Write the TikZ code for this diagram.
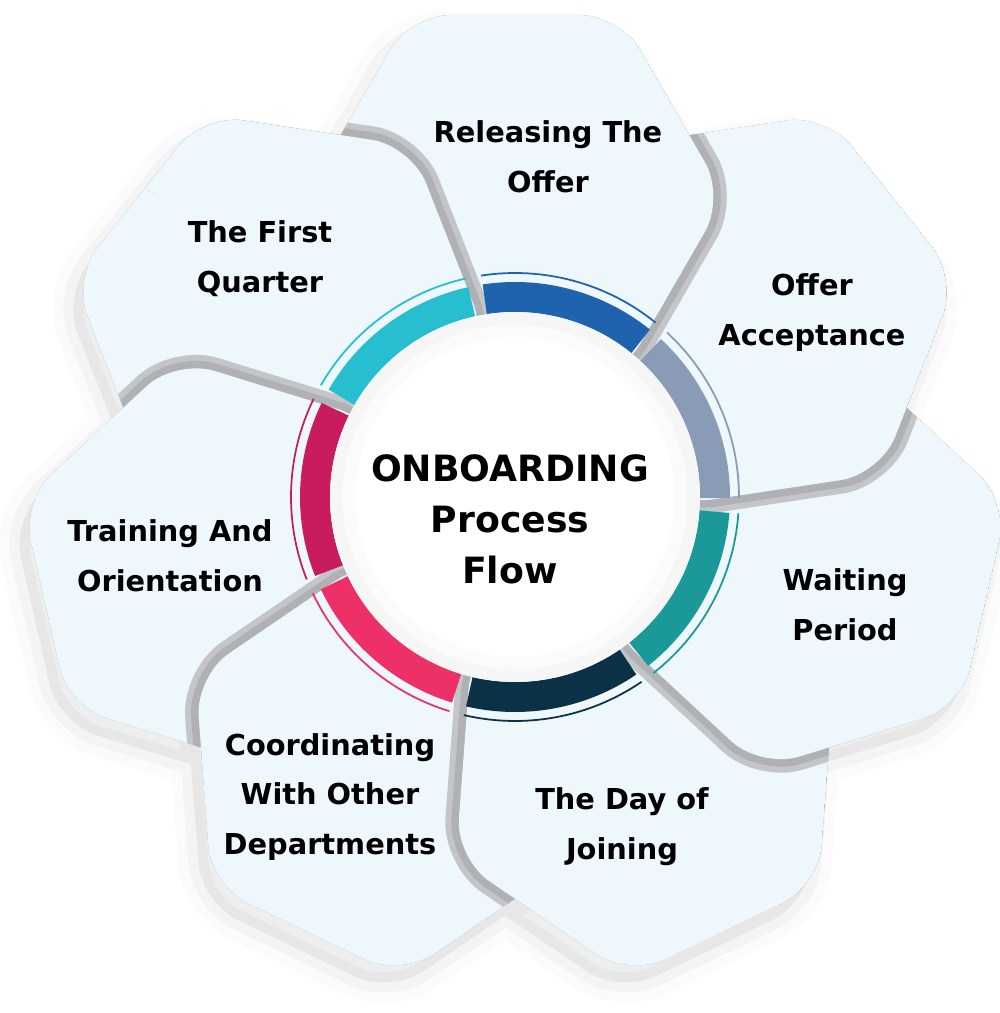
\documentclass[tikz,border=0pt]{standalone}
\usepackage{fontspec}
\setmainfont{DejaVu Sans}
\usetikzlibrary{calc}

\definecolor{petalfill}{HTML}{EDF7FC}
\definecolor{gutter}{HTML}{77787D}
\definecolor{gutterlight}{HTML}{C4C5C9}
\definecolor{gutterdark}{HTML}{B0B1B5}
\definecolor{ringblue}{HTML}{1F63AE}
\definecolor{ringslate}{HTML}{8A9CB5}
\definecolor{ringteal}{HTML}{1B9898}
\definecolor{ringnavy}{HTML}{0A3146}
\definecolor{ringpink}{HTML}{EE3069}
\definecolor{ringcrimson}{HTML}{C81C5E}
\definecolor{ringcyan}{HTML}{27BFCF}

% hexagon whose flat outer side faces direction #1
\newcommand\petal[1]{($(#1:3)+(#1+30:2.1)$) -- ($(#1:3)+(#1+90:2.1)$) -- ($(#1:3)+(#1+150:2.1)$)
    -- ($(#1:3)+(#1+210:2.1)$) -- ($(#1:3)+(#1+270:2.1)$) -- ($(#1:3)+(#1+330:2.1)$) -- cycle}
\newcommand\allpetals{\petal{90} \petal{38.57} \petal{-12.86} \petal{-64.29} \petal{-115.71} \petal{-167.14} \petal{141.43}}

\begin{document}
\begin{tikzpicture}[
                petalface/.style={rounded corners=4mm, fill=petalfill,
                    preaction={draw=gutterlight, line width=2.7mm},
                    preaction={draw=gutterdark, line width=1.5mm}},
                petaltext/.style={font=\bfseries\fontsize{8.2}{14.2}\selectfont, align=center, inner sep=0pt},
                hubtext/.style={font=\bfseries\fontsize{10.3}{14.5}\selectfont, align=center, inner sep=0pt},
                segment/.style={line width=3mm},
                rim/.style={line width=0.5pt}
            ]
            \useasboundingbox (-5.15,-5.16) rectangle (4.85,4.97);

            % Soft shadow on the background
            \begin{scope}[shift={(-0.1,-0.17)}]
                \path[rounded corners=4mm, draw=gutter, line width=4mm, opacity=0.03] \allpetals;
                \path[rounded corners=4mm, draw=gutter, line width=2mm, opacity=0.05] \allpetals;
                \path[rounded corners=4mm, fill=gutter, opacity=0.1] \allpetals;
            \end{scope}

            % Petals, each one lying over its clockwise neighbour
            \begin{scope}
                \clip[rounded corners=4mm] \allpetals;
                \path[petalface] \petal{141.43};
                \path[petalface] \petal{-167.14};
                \path[petalface] \petal{-115.71};
                \path[petalface] \petal{-64.29};
                \path[petalface] \petal{-12.86};
                \path[petalface] \petal{38.57};
                \path[petalface] \petal{90};
                % The First Quarter again, over Releasing The Offer
                \clip (0,0) -- (90:8) -- (115:8) -- (140:8) -- cycle;
                \path[petalface] \petal{141.43};
            \end{scope}

            % Ring segments
            \draw[segment, ringblue] (98.7:2) arc[start angle=98.7, end angle=51.1, radius=2];
            \draw[rim, ringblue] (98.7:2.24) arc[start angle=98.7, end angle=51.1, radius=2.24];
            \draw[segment, ringslate] (47.3:2) arc[start angle=47.3, end angle=-0.3, radius=2];
            \draw[rim, ringslate] (47.3:2.24) arc[start angle=47.3, end angle=-0.3, radius=2.24];
            \draw[segment, ringteal] (-4.2:2) arc[start angle=-4.2, end angle=-51.8, radius=2];
            \draw[rim, ringteal] (-4.2:2.24) arc[start angle=-4.2, end angle=-51.8, radius=2.24];
            \draw[segment, ringnavy] (-55.6:2) arc[start angle=-55.6, end angle=-103.2, radius=2];
            \draw[rim, ringnavy] (-55.6:2.24) arc[start angle=-55.6, end angle=-103.2, radius=2.24];
            \draw[segment, ringpink] (-107:2) arc[start angle=-107, end angle=-154.6, radius=2];
            \draw[rim, ringpink] (-107:2.24) arc[start angle=-107, end angle=-154.6, radius=2.24];
            \draw[segment, ringcrimson] (-158.4:2) arc[start angle=-158.4, end angle=-206, radius=2];
            \draw[rim, ringcrimson] (-158.4:2.24) arc[start angle=-158.4, end angle=-206, radius=2.24];
            \draw[segment, ringcyan] (150.1:2) arc[start angle=150.1, end angle=102.5, radius=2];
            \draw[rim, ringcyan] (150.1:2.24) arc[start angle=150.1, end angle=102.5, radius=2.24];

            % Hub
            \node[circle, fill=white, minimum size=3.7cm, inner sep=0pt] (hub) at (0,0) {};
            \begin{scope}
                \clip (0,0) circle[radius=1.85];
                \draw[gutter, line width=5mm, opacity=0.025] (0,0) circle[radius=1.85];
                \draw[gutter, line width=2.5mm, opacity=0.035] (0,0) circle[radius=1.85];
            \end{scope}

            % Texts
            \node[hubtext] (title) at (-0.05,-0.22) {ONBOARDING\\Process\\Flow};
            \node[petaltext] (t1) at (0.33,3.40) {Releasing The\\Offer};
            \node[petaltext] (t2) at (2.97,1.84) {Offer\\Acceptance};
            \node[petaltext] (t3) at (3.30,-1.08) {Waiting\\Period};
            \node[petaltext] (t4) at (1.07,-3.30) {The Day of\\Joining};
            \node[petaltext] (t5) at (-1.85,-3.00) {Coordinating\\With Other\\Departments};
            \node[petaltext] (t6) at (-3.45,-0.59) {Training And\\Orientation};
            \node[petaltext] (t7) at (-2.55,2.38) {The First\\Quarter};

        \end{tikzpicture}
\end{document}
